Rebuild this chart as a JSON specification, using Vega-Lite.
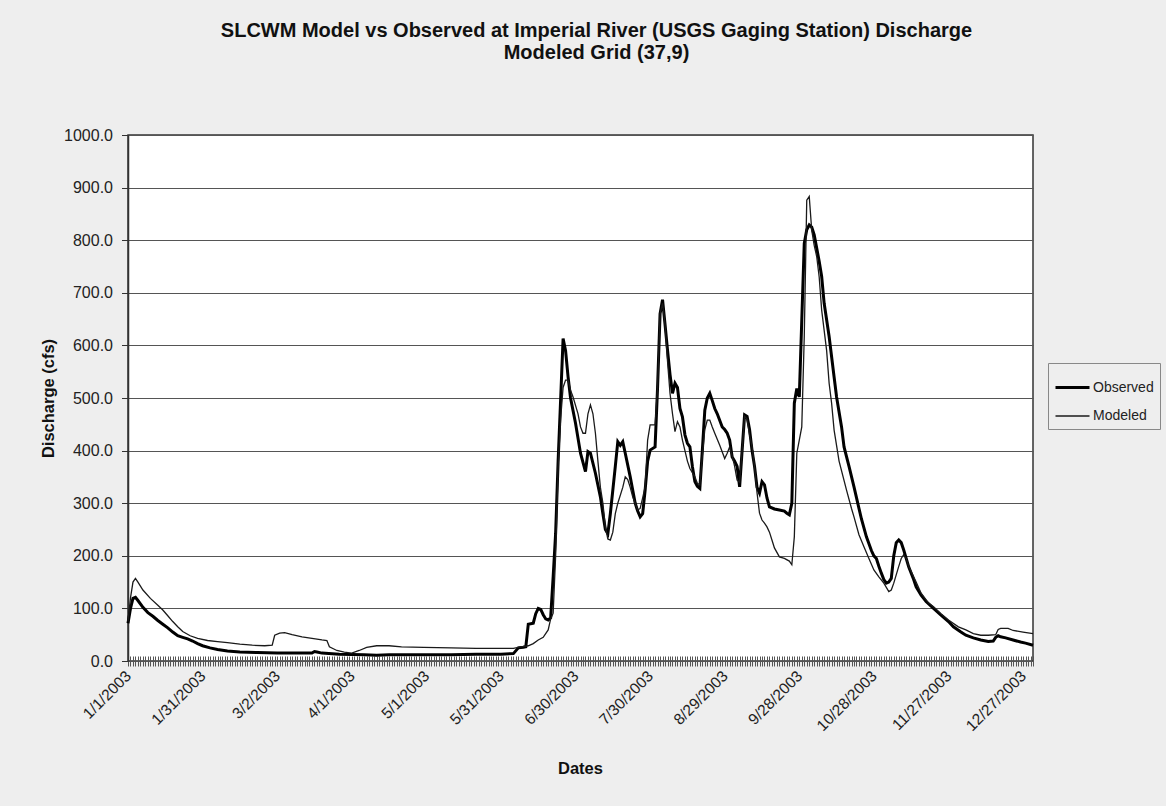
{
"$schema": "https://vega.github.io/schema/vega-lite/v6.json",
"width": 905, "height": 526,
"autosize": {"type": "none"},
"padding": {"left": 128, "top": 135, "right": 133, "bottom": 145},
"background": "#eeeeee",
"title": {"text": ["SLCWM Model vs Observed at Imperial River (USGS Gaging Station) Discharge", "Modeled Grid (37,9)"], "font": "Liberation Sans", "fontSize": 20, "fontWeight": "bold", "color": "#111111", "anchor": "middle", "frame": "group", "offset": 64, "lineHeight": 22, "dx": 16},
"config": {"font": "Liberation Sans", "view": {"fill": "white", "stroke": "#333333", "strokeWidth": 1.5}},
"datasets": {"flow": [
{"d":"2003-01-01","s":"Observed","q":72},{"d":"2003-01-02","s":"Observed","q":100},{"d":"2003-01-03","s":"Observed","q":119},{"d":"2003-01-04","s":"Observed","q":121},{"d":"2003-01-05","s":"Observed","q":115},{"d":"2003-01-07","s":"Observed","q":102},{"d":"2003-01-09","s":"Observed","q":92},{"d":"2003-01-11","s":"Observed","q":85},{"d":"2003-01-13","s":"Observed","q":77},{"d":"2003-01-15","s":"Observed","q":70},{"d":"2003-01-17","s":"Observed","q":63},{"d":"2003-01-19","s":"Observed","q":55},{"d":"2003-01-21","s":"Observed","q":48},{"d":"2003-01-23","s":"Observed","q":45},{"d":"2003-01-25","s":"Observed","q":42},{"d":"2003-01-27","s":"Observed","q":38},{"d":"2003-01-29","s":"Observed","q":33},{"d":"2003-01-31","s":"Observed","q":29},{"d":"2003-02-03","s":"Observed","q":25},{"d":"2003-02-06","s":"Observed","q":22},{"d":"2003-02-10","s":"Observed","q":19},{"d":"2003-02-15","s":"Observed","q":17},{"d":"2003-02-22","s":"Observed","q":16},{"d":"2003-03-02","s":"Observed","q":15},{"d":"2003-03-10","s":"Observed","q":15},{"d":"2003-03-16","s":"Observed","q":15},{"d":"2003-03-17","s":"Observed","q":18},{"d":"2003-03-18","s":"Observed","q":17},{"d":"2003-03-20","s":"Observed","q":15},{"d":"2003-03-27","s":"Observed","q":13},{"d":"2003-04-06","s":"Observed","q":12},{"d":"2003-04-11","s":"Observed","q":11},{"d":"2003-04-16","s":"Observed","q":12},{"d":"2003-05-01","s":"Observed","q":12},{"d":"2003-05-11","s":"Observed","q":12},{"d":"2003-05-21","s":"Observed","q":13},{"d":"2003-05-31","s":"Observed","q":13},{"d":"2003-06-05","s":"Observed","q":14},{"d":"2003-06-07","s":"Observed","q":25},{"d":"2003-06-09","s":"Observed","q":26},{"d":"2003-06-10","s":"Observed","q":27},{"d":"2003-06-11","s":"Observed","q":70},{"d":"2003-06-13","s":"Observed","q":72},{"d":"2003-06-14","s":"Observed","q":90},{"d":"2003-06-15","s":"Observed","q":100},{"d":"2003-06-16","s":"Observed","q":98},{"d":"2003-06-17","s":"Observed","q":88},{"d":"2003-06-18","s":"Observed","q":80},{"d":"2003-06-19","s":"Observed","q":78},{"d":"2003-06-20","s":"Observed","q":82},{"d":"2003-06-21","s":"Observed","q":160},{"d":"2003-06-22","s":"Observed","q":243},{"d":"2003-06-23","s":"Observed","q":380},{"d":"2003-06-24","s":"Observed","q":496},{"d":"2003-06-25","s":"Observed","q":613},{"d":"2003-06-26","s":"Observed","q":590},{"d":"2003-06-27","s":"Observed","q":540},{"d":"2003-06-28","s":"Observed","q":500},{"d":"2003-06-30","s":"Observed","q":452},{"d":"2003-07-02","s":"Observed","q":395},{"d":"2003-07-04","s":"Observed","q":360},{"d":"2003-07-05","s":"Observed","q":398},{"d":"2003-07-06","s":"Observed","q":395},{"d":"2003-07-08","s":"Observed","q":357},{"d":"2003-07-10","s":"Observed","q":312},{"d":"2003-07-11","s":"Observed","q":280},{"d":"2003-07-12","s":"Observed","q":250},{"d":"2003-07-13","s":"Observed","q":242},{"d":"2003-07-14","s":"Observed","q":280},{"d":"2003-07-15","s":"Observed","q":325},{"d":"2003-07-16","s":"Observed","q":370},{"d":"2003-07-17","s":"Observed","q":417},{"d":"2003-07-18","s":"Observed","q":410},{"d":"2003-07-19","s":"Observed","q":417},{"d":"2003-07-20","s":"Observed","q":395},{"d":"2003-07-22","s":"Observed","q":350},{"d":"2003-07-24","s":"Observed","q":300},{"d":"2003-07-25","s":"Observed","q":285},{"d":"2003-07-26","s":"Observed","q":274},{"d":"2003-07-27","s":"Observed","q":280},{"d":"2003-07-28","s":"Observed","q":325},{"d":"2003-07-29","s":"Observed","q":380},{"d":"2003-07-30","s":"Observed","q":401},{"d":"2003-08-01","s":"Observed","q":407},{"d":"2003-08-02","s":"Observed","q":520},{"d":"2003-08-03","s":"Observed","q":660},{"d":"2003-08-04","s":"Observed","q":687},{"d":"2003-08-05","s":"Observed","q":640},{"d":"2003-08-06","s":"Observed","q":591},{"d":"2003-08-07","s":"Observed","q":545},{"d":"2003-08-08","s":"Observed","q":509},{"d":"2003-08-09","s":"Observed","q":528},{"d":"2003-08-10","s":"Observed","q":520},{"d":"2003-08-11","s":"Observed","q":480},{"d":"2003-08-12","s":"Observed","q":464},{"d":"2003-08-13","s":"Observed","q":430},{"d":"2003-08-14","s":"Observed","q":414},{"d":"2003-08-15","s":"Observed","q":407},{"d":"2003-08-16","s":"Observed","q":370},{"d":"2003-08-17","s":"Observed","q":341},{"d":"2003-08-18","s":"Observed","q":332},{"d":"2003-08-19","s":"Observed","q":328},{"d":"2003-08-20","s":"Observed","q":400},{"d":"2003-08-21","s":"Observed","q":477},{"d":"2003-08-22","s":"Observed","q":500},{"d":"2003-08-23","s":"Observed","q":509},{"d":"2003-08-24","s":"Observed","q":495},{"d":"2003-08-25","s":"Observed","q":480},{"d":"2003-08-26","s":"Observed","q":470},{"d":"2003-08-28","s":"Observed","q":445},{"d":"2003-08-29","s":"Observed","q":440},{"d":"2003-08-30","s":"Observed","q":433},{"d":"2003-08-31","s":"Observed","q":420},{"d":"2003-09-01","s":"Observed","q":388},{"d":"2003-09-02","s":"Observed","q":380},{"d":"2003-09-03","s":"Observed","q":370},{"d":"2003-09-04","s":"Observed","q":331},{"d":"2003-09-05","s":"Observed","q":400},{"d":"2003-09-06","s":"Observed","q":468},{"d":"2003-09-07","s":"Observed","q":465},{"d":"2003-09-08","s":"Observed","q":440},{"d":"2003-09-09","s":"Observed","q":400},{"d":"2003-09-10","s":"Observed","q":370},{"d":"2003-09-11","s":"Observed","q":330},{"d":"2003-09-12","s":"Observed","q":319},{"d":"2003-09-13","s":"Observed","q":341},{"d":"2003-09-14","s":"Observed","q":335},{"d":"2003-09-15","s":"Observed","q":310},{"d":"2003-09-16","s":"Observed","q":293},{"d":"2003-09-18","s":"Observed","q":289},{"d":"2003-09-20","s":"Observed","q":287},{"d":"2003-09-22","s":"Observed","q":285},{"d":"2003-09-23","s":"Observed","q":281},{"d":"2003-09-24","s":"Observed","q":278},{"d":"2003-09-25","s":"Observed","q":300},{"d":"2003-09-26","s":"Observed","q":490},{"d":"2003-09-27","s":"Observed","q":518},{"d":"2003-09-28","s":"Observed","q":502},{"d":"2003-09-29","s":"Observed","q":648},{"d":"2003-09-30","s":"Observed","q":794},{"d":"2003-10-01","s":"Observed","q":820},{"d":"2003-10-02","s":"Observed","q":829},{"d":"2003-10-03","s":"Observed","q":825},{"d":"2003-10-04","s":"Observed","q":810},{"d":"2003-10-06","s":"Observed","q":760},{"d":"2003-10-07","s":"Observed","q":731},{"d":"2003-10-08","s":"Observed","q":680},{"d":"2003-10-10","s":"Observed","q":617},{"d":"2003-10-12","s":"Observed","q":540},{"d":"2003-10-13","s":"Observed","q":502},{"d":"2003-10-15","s":"Observed","q":445},{"d":"2003-10-16","s":"Observed","q":407},{"d":"2003-10-18","s":"Observed","q":370},{"d":"2003-10-20","s":"Observed","q":331},{"d":"2003-10-22","s":"Observed","q":290},{"d":"2003-10-23","s":"Observed","q":270},{"d":"2003-10-25","s":"Observed","q":236},{"d":"2003-10-27","s":"Observed","q":210},{"d":"2003-10-28","s":"Observed","q":200},{"d":"2003-10-29","s":"Observed","q":195},{"d":"2003-10-30","s":"Observed","q":180},{"d":"2003-10-31","s":"Observed","q":167},{"d":"2003-11-01","s":"Observed","q":155},{"d":"2003-11-02","s":"Observed","q":148},{"d":"2003-11-03","s":"Observed","q":150},{"d":"2003-11-04","s":"Observed","q":157},{"d":"2003-11-05","s":"Observed","q":200},{"d":"2003-11-06","s":"Observed","q":225},{"d":"2003-11-07","s":"Observed","q":230},{"d":"2003-11-08","s":"Observed","q":225},{"d":"2003-11-09","s":"Observed","q":211},{"d":"2003-11-10","s":"Observed","q":195},{"d":"2003-11-11","s":"Observed","q":179},{"d":"2003-11-13","s":"Observed","q":155},{"d":"2003-11-14","s":"Observed","q":141},{"d":"2003-11-16","s":"Observed","q":125},{"d":"2003-11-18","s":"Observed","q":113},{"d":"2003-11-21","s":"Observed","q":100},{"d":"2003-11-24","s":"Observed","q":87},{"d":"2003-11-27","s":"Observed","q":75},{"d":"2003-11-29","s":"Observed","q":65},{"d":"2003-12-02","s":"Observed","q":55},{"d":"2003-12-04","s":"Observed","q":49},{"d":"2003-12-07","s":"Observed","q":44},{"d":"2003-12-10","s":"Observed","q":40},{"d":"2003-12-13","s":"Observed","q":37},{"d":"2003-12-15","s":"Observed","q":38},{"d":"2003-12-16","s":"Observed","q":45},{"d":"2003-12-17","s":"Observed","q":48},{"d":"2003-12-18","s":"Observed","q":46},{"d":"2003-12-20","s":"Observed","q":44},{"d":"2003-12-23","s":"Observed","q":40},{"d":"2003-12-26","s":"Observed","q":36},{"d":"2003-12-28","s":"Observed","q":34},{"d":"2003-12-31","s":"Observed","q":30},
{"d":"2003-01-01","s":"Modeled","q":75},{"d":"2003-01-02","s":"Modeled","q":120},{"d":"2003-01-03","s":"Modeled","q":150},{"d":"2003-01-04","s":"Modeled","q":157},{"d":"2003-01-05","s":"Modeled","q":150},{"d":"2003-01-07","s":"Modeled","q":135},{"d":"2003-01-10","s":"Modeled","q":119},{"d":"2003-01-13","s":"Modeled","q":106},{"d":"2003-01-15","s":"Modeled","q":97},{"d":"2003-01-17","s":"Modeled","q":86},{"d":"2003-01-19","s":"Modeled","q":75},{"d":"2003-01-21","s":"Modeled","q":65},{"d":"2003-01-23","s":"Modeled","q":56},{"d":"2003-01-26","s":"Modeled","q":48},{"d":"2003-01-29","s":"Modeled","q":43},{"d":"2003-02-02","s":"Modeled","q":39},{"d":"2003-02-06","s":"Modeled","q":37},{"d":"2003-02-10","s":"Modeled","q":35},{"d":"2003-02-15","s":"Modeled","q":32},{"d":"2003-02-20","s":"Modeled","q":30},{"d":"2003-02-25","s":"Modeled","q":29},{"d":"2003-02-28","s":"Modeled","q":30},{"d":"2003-03-01","s":"Modeled","q":49},{"d":"2003-03-03","s":"Modeled","q":53},{"d":"2003-03-05","s":"Modeled","q":54},{"d":"2003-03-08","s":"Modeled","q":50},{"d":"2003-03-12","s":"Modeled","q":46},{"d":"2003-03-16","s":"Modeled","q":43},{"d":"2003-03-20","s":"Modeled","q":40},{"d":"2003-03-22","s":"Modeled","q":39},{"d":"2003-03-23","s":"Modeled","q":27},{"d":"2003-03-26","s":"Modeled","q":20},{"d":"2003-03-29","s":"Modeled","q":17},{"d":"2003-04-01","s":"Modeled","q":15},{"d":"2003-04-04","s":"Modeled","q":20},{"d":"2003-04-07","s":"Modeled","q":26},{"d":"2003-04-11","s":"Modeled","q":29},{"d":"2003-04-16","s":"Modeled","q":29},{"d":"2003-04-21","s":"Modeled","q":27},{"d":"2003-04-30","s":"Modeled","q":26},{"d":"2003-05-11","s":"Modeled","q":25},{"d":"2003-05-21","s":"Modeled","q":24},{"d":"2003-05-31","s":"Modeled","q":24},{"d":"2003-06-05","s":"Modeled","q":24},{"d":"2003-06-08","s":"Modeled","q":27},{"d":"2003-06-11","s":"Modeled","q":29},{"d":"2003-06-13","s":"Modeled","q":33},{"d":"2003-06-15","s":"Modeled","q":40},{"d":"2003-06-17","s":"Modeled","q":45},{"d":"2003-06-19","s":"Modeled","q":59},{"d":"2003-06-20","s":"Modeled","q":80},{"d":"2003-06-21","s":"Modeled","q":91},{"d":"2003-06-22","s":"Modeled","q":200},{"d":"2003-06-23","s":"Modeled","q":369},{"d":"2003-06-24","s":"Modeled","q":460},{"d":"2003-06-25","s":"Modeled","q":520},{"d":"2003-06-26","s":"Modeled","q":534},{"d":"2003-06-27","s":"Modeled","q":534},{"d":"2003-06-28","s":"Modeled","q":515},{"d":"2003-06-29","s":"Modeled","q":502},{"d":"2003-07-01","s":"Modeled","q":470},{"d":"2003-07-02","s":"Modeled","q":445},{"d":"2003-07-03","s":"Modeled","q":433},{"d":"2003-07-04","s":"Modeled","q":433},{"d":"2003-07-05","s":"Modeled","q":470},{"d":"2003-07-06","s":"Modeled","q":487},{"d":"2003-07-07","s":"Modeled","q":470},{"d":"2003-07-08","s":"Modeled","q":433},{"d":"2003-07-09","s":"Modeled","q":380},{"d":"2003-07-10","s":"Modeled","q":330},{"d":"2003-07-11","s":"Modeled","q":300},{"d":"2003-07-12","s":"Modeled","q":255},{"d":"2003-07-13","s":"Modeled","q":232},{"d":"2003-07-14","s":"Modeled","q":230},{"d":"2003-07-15","s":"Modeled","q":245},{"d":"2003-07-16","s":"Modeled","q":280},{"d":"2003-07-17","s":"Modeled","q":300},{"d":"2003-07-19","s":"Modeled","q":330},{"d":"2003-07-20","s":"Modeled","q":350},{"d":"2003-07-21","s":"Modeled","q":345},{"d":"2003-07-22","s":"Modeled","q":330},{"d":"2003-07-23","s":"Modeled","q":312},{"d":"2003-07-24","s":"Modeled","q":300},{"d":"2003-07-25","s":"Modeled","q":287},{"d":"2003-07-26","s":"Modeled","q":290},{"d":"2003-07-27","s":"Modeled","q":310},{"d":"2003-07-28","s":"Modeled","q":331},{"d":"2003-07-29","s":"Modeled","q":420},{"d":"2003-07-30","s":"Modeled","q":449},{"d":"2003-08-01","s":"Modeled","q":449},{"d":"2003-08-02","s":"Modeled","q":520},{"d":"2003-08-03","s":"Modeled","q":660},{"d":"2003-08-04","s":"Modeled","q":680},{"d":"2003-08-05","s":"Modeled","q":640},{"d":"2003-08-06","s":"Modeled","q":570},{"d":"2003-08-07","s":"Modeled","q":509},{"d":"2003-08-08","s":"Modeled","q":470},{"d":"2003-08-09","s":"Modeled","q":436},{"d":"2003-08-10","s":"Modeled","q":455},{"d":"2003-08-11","s":"Modeled","q":445},{"d":"2003-08-12","s":"Modeled","q":420},{"d":"2003-08-13","s":"Modeled","q":400},{"d":"2003-08-14","s":"Modeled","q":380},{"d":"2003-08-15","s":"Modeled","q":366},{"d":"2003-08-16","s":"Modeled","q":358},{"d":"2003-08-17","s":"Modeled","q":350},{"d":"2003-08-18","s":"Modeled","q":338},{"d":"2003-08-19","s":"Modeled","q":335},{"d":"2003-08-20","s":"Modeled","q":390},{"d":"2003-08-21","s":"Modeled","q":440},{"d":"2003-08-22","s":"Modeled","q":458},{"d":"2003-08-23","s":"Modeled","q":458},{"d":"2003-08-24","s":"Modeled","q":445},{"d":"2003-08-25","s":"Modeled","q":433},{"d":"2003-08-27","s":"Modeled","q":410},{"d":"2003-08-29","s":"Modeled","q":385},{"d":"2003-08-30","s":"Modeled","q":395},{"d":"2003-08-31","s":"Modeled","q":407},{"d":"2003-09-01","s":"Modeled","q":390},{"d":"2003-09-02","s":"Modeled","q":370},{"d":"2003-09-03","s":"Modeled","q":344},{"d":"2003-09-04","s":"Modeled","q":340},{"d":"2003-09-05","s":"Modeled","q":400},{"d":"2003-09-06","s":"Modeled","q":465},{"d":"2003-09-07","s":"Modeled","q":460},{"d":"2003-09-08","s":"Modeled","q":430},{"d":"2003-09-09","s":"Modeled","q":407},{"d":"2003-09-10","s":"Modeled","q":370},{"d":"2003-09-11","s":"Modeled","q":320},{"d":"2003-09-12","s":"Modeled","q":281},{"d":"2003-09-13","s":"Modeled","q":268},{"d":"2003-09-14","s":"Modeled","q":262},{"d":"2003-09-15","s":"Modeled","q":255},{"d":"2003-09-16","s":"Modeled","q":245},{"d":"2003-09-17","s":"Modeled","q":230},{"d":"2003-09-18","s":"Modeled","q":215},{"d":"2003-09-20","s":"Modeled","q":198},{"d":"2003-09-22","s":"Modeled","q":195},{"d":"2003-09-24","s":"Modeled","q":190},{"d":"2003-09-25","s":"Modeled","q":183},{"d":"2003-09-26","s":"Modeled","q":236},{"d":"2003-09-27","s":"Modeled","q":395},{"d":"2003-09-28","s":"Modeled","q":420},{"d":"2003-09-29","s":"Modeled","q":445},{"d":"2003-09-30","s":"Modeled","q":617},{"d":"2003-10-01","s":"Modeled","q":876},{"d":"2003-10-02","s":"Modeled","q":883},{"d":"2003-10-03","s":"Modeled","q":819},{"d":"2003-10-04","s":"Modeled","q":790},{"d":"2003-10-05","s":"Modeled","q":769},{"d":"2003-10-06","s":"Modeled","q":730},{"d":"2003-10-07","s":"Modeled","q":667},{"d":"2003-10-09","s":"Modeled","q":590},{"d":"2003-10-10","s":"Modeled","q":528},{"d":"2003-10-11","s":"Modeled","q":490},{"d":"2003-10-12","s":"Modeled","q":439},{"d":"2003-10-14","s":"Modeled","q":380},{"d":"2003-10-17","s":"Modeled","q":325},{"d":"2003-10-19","s":"Modeled","q":290},{"d":"2003-10-20","s":"Modeled","q":274},{"d":"2003-10-22","s":"Modeled","q":240},{"d":"2003-10-24","s":"Modeled","q":217},{"d":"2003-10-26","s":"Modeled","q":195},{"d":"2003-10-28","s":"Modeled","q":173},{"d":"2003-10-30","s":"Modeled","q":160},{"d":"2003-11-01","s":"Modeled","q":148},{"d":"2003-11-03","s":"Modeled","q":132},{"d":"2003-11-04","s":"Modeled","q":135},{"d":"2003-11-05","s":"Modeled","q":148},{"d":"2003-11-07","s":"Modeled","q":180},{"d":"2003-11-08","s":"Modeled","q":195},{"d":"2003-11-09","s":"Modeled","q":202},{"d":"2003-11-10","s":"Modeled","q":195},{"d":"2003-11-11","s":"Modeled","q":180},{"d":"2003-11-13","s":"Modeled","q":160},{"d":"2003-11-14","s":"Modeled","q":150},{"d":"2003-11-16","s":"Modeled","q":129},{"d":"2003-11-19","s":"Modeled","q":110},{"d":"2003-11-21","s":"Modeled","q":103},{"d":"2003-11-24","s":"Modeled","q":90},{"d":"2003-11-27","s":"Modeled","q":78},{"d":"2003-12-01","s":"Modeled","q":65},{"d":"2003-12-04","s":"Modeled","q":59},{"d":"2003-12-07","s":"Modeled","q":52},{"d":"2003-12-10","s":"Modeled","q":49},{"d":"2003-12-13","s":"Modeled","q":49},{"d":"2003-12-16","s":"Modeled","q":50},{"d":"2003-12-17","s":"Modeled","q":60},{"d":"2003-12-18","s":"Modeled","q":62},{"d":"2003-12-21","s":"Modeled","q":62},{"d":"2003-12-23","s":"Modeled","q":58},{"d":"2003-12-27","s":"Modeled","q":55},{"d":"2003-12-31","s":"Modeled","q":52}
]},
"data": {"name": "flow"},
"mark": {"type": "line", "interpolate": "linear"},
"encoding": {
  "x": {"field": "d", "type": "temporal",
    "scale": {"type": "utc", "domain": [{"year": 2003, "month": 1, "date": 1, "utc": true}, {"year": 2003, "month": 12, "date": 31, "utc": true}]},
    "axis": {"title": "Dates", "tickCount": {"interval": "day", "step": 1},
      "labelExpr": "round((datum.value - utc(2003,0,1))/86400000) % 30 == 0 ? utcFormat(datum.value, '%-m/%-d/%Y') : ''",
      "labelAngle": -45, "labelAlign": "right", "labelBaseline": "middle", "labelOverlap": false, "labelBound": false, "labelFlush": false,
      "labelFontSize": 15.5, "labelColor": "#222222", "labelPadding": 7,
      "offset": -5, "domain": false, "ticks": true, "tickSize": 10, "tickColor": "#555555", "tickWidth": 1, "grid": false,
      "titleFontSize": 16.5, "titleFontWeight": "bold", "titleColor": "#111111", "titleX": 452, "titleY": 112, "titleBaseline": "middle", "titleAlign": "center"}},
  "y": {"field": "q", "type": "quantitative",
    "scale": {"domain": [0, 1000], "nice": false},
    "axis": {"title": "Discharge (cfs)", "values": [0,100,200,300,400,500,600,700,800,900,1000], "format": ".1f",
      "labelFontSize": 16, "labelColor": "#222222", "labelPadding": 9, "tickSize": 6.5, "tickColor": "#333333", "domainColor": "#333333", "domainWidth": 1.5,
      "grid": true, "gridColor": "#555555", "gridWidth": 1,
      "titleFontSize": 16.5, "titleFontWeight": "bold", "titleColor": "#111111", "titleX": -80, "titleY": 263, "titleAngle": -90, "titleAlign": "center", "titleBaseline": "middle"}},
  "color": {"field": "s", "type": "nominal",
    "scale": {"domain": ["Observed", "Modeled"], "range": ["#000000", "#1a1a1a"]},
    "legend": {"orient": "none", "legendX": 920, "legendY": 228, "title": null, "symbolType": "stroke", "symbolSize": 1156,
      "labelFontSize": 14, "labelColor": "#222222", "labelOffset": 2, "rowPadding": 3, "padding": 6,
      "strokeColor": "#888888", "fillColor": "#eeeeee"}},
  "strokeWidth": {"field": "s", "type": "nominal",
    "scale": {"domain": ["Observed", "Modeled"], "range": [3, 1.3]},
    "legend": {"orient": "none", "legendX": 920, "legendY": 228, "title": null, "symbolType": "stroke", "symbolSize": 1156,
      "labelFontSize": 14, "labelColor": "#222222", "labelOffset": 2, "rowPadding": 3, "padding": 6,
      "strokeColor": "#888888", "fillColor": "#eeeeee"}}
}
}
